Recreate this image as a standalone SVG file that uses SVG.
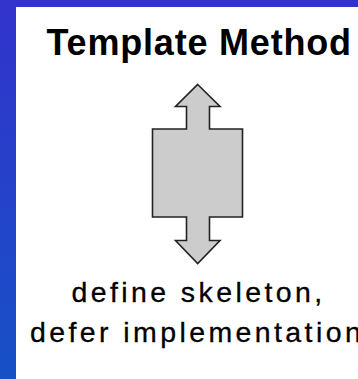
<svg xmlns="http://www.w3.org/2000/svg" width="358" height="379" viewBox="0 0 358 379">
  <defs>
    <linearGradient id="frameFill" x1="0" y1="0" x2="0" y2="1">
      <stop offset="0" stop-color="#3333cc"/>
      <stop offset="1" stop-color="#1751c6"/>
    </linearGradient>
  </defs>
  <style>
    .title { font-family: "Liberation Sans", Arial, sans-serif; font-weight: bold; font-size: 36px; fill: #000; letter-spacing: 0.8px; }
    .caption { font-family: "Liberation Sans", Arial, sans-serif; font-size: 28.5px; fill: #000; stroke: #000; stroke-width: 0.3px; letter-spacing: 3.4px; }
    .shape { fill: #cccccc; stroke: #222; stroke-width: 1.6; stroke-linejoin: miter; }
  </style>

  <!-- blue frame and white panel -->
  <rect x="0" y="0" width="358" height="379" fill="url(#frameFill)"/>
  <rect x="16" y="7" width="342" height="372" fill="#ffffff"/>

  <text class="title" x="46.5" y="55">Template Method</text>

  <!-- double-headed block arrow -->
  <g id="block-arrow">
    <polygon class="shape" points="197.7,84.5 220,106.5 209.5,106.5 209.5,129 242.5,129 242.5,217 209.5,217 209.5,240.5 220,240.5 197.7,263.5 175.5,240.5 186.5,240.5 186.5,217 152.5,217 152.5,129 186.5,129 186.5,106.5 175.5,106.5"/>
  </g>

  <g id="caption">
    <text class="caption" x="71.5" y="301.7">define skeleton,</text>
    <text class="caption" x="30" y="341.7">defer implementation</text>
  </g>
</svg>
